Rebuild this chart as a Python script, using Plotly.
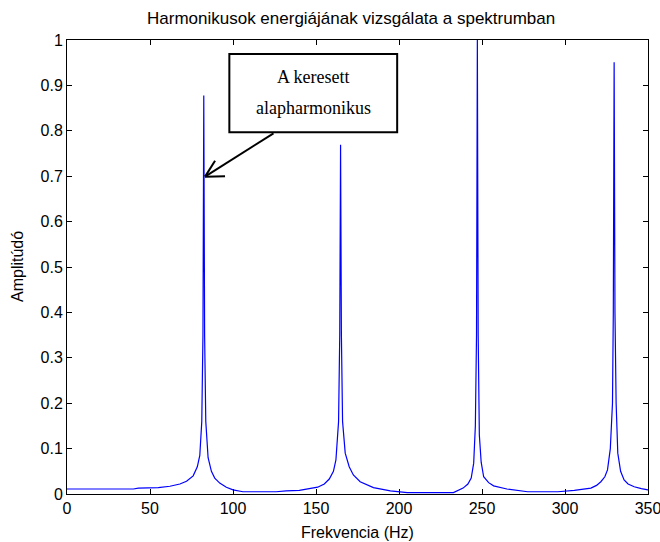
import plotly.graph_objects as go

# Spectrum data
freq_hz = [0, 40, 43, 55, 62, 68, 72, 76, 78.5, 80, 81.2, 81.9, 82.4, 82.9, 83.6, 85, 87, 89, 92, 96,
           100, 106, 126, 132, 140, 146, 151, 155, 158, 160.5, 162, 163.6, 164.3, 164.8, 165.3, 166,
           167.6, 170, 172.5, 176.6, 184.6, 194.8, 205, 232.8, 238.6, 241.5, 243.5, 245, 246, 246.7,
           247.2, 247.7, 248.4, 249.5, 251, 254, 257, 265, 277.5, 295.7, 305.6, 315.6, 319, 321.6,
           324, 325.6, 327.3, 328.6, 329.1, 329.6, 330.1, 330.8, 331.8, 333.5, 335.6, 338, 341.7,
           346, 350]
amplitude = [0.011, 0.011, 0.013, 0.014, 0.017, 0.022, 0.028, 0.040, 0.060, 0.085, 0.16, 0.35, 0.878,
             0.35, 0.16, 0.080, 0.050, 0.035, 0.024, 0.015, 0.009, 0.005, 0.005, 0.007, 0.008, 0.011,
             0.015, 0.022, 0.033, 0.050, 0.075, 0.16, 0.35, 0.769, 0.35, 0.16, 0.090, 0.060, 0.042,
             0.027, 0.014, 0.007, 0.003, 0.003, 0.013, 0.022, 0.035, 0.068, 0.15, 0.35, 1.0, 0.35,
             0.13, 0.07, 0.038, 0.025, 0.018, 0.011, 0.005, 0.005, 0.008, 0.013, 0.019, 0.027, 0.038,
             0.053, 0.10, 0.20, 0.40, 0.951, 0.40, 0.20, 0.090, 0.050, 0.031, 0.022, 0.016, 0.012,
             0.009]

x_ticks = [0, 50, 100, 150, 200, 250, 300, 350]
y_ticks = [0, 0.1, 0.2, 0.3, 0.4, 0.5, 0.6, 0.7, 0.8, 0.9, 1]
y_tick_labels = ["0", "0.1", "0.2", "0.3", "0.4", "0.5", "0.6", "0.7", "0.8", "0.9", "1"]

title_text = "Harmonikusok energiájának vizsgálata a spektrumban"
x_label = "Frekvencia (Hz)"
y_label = "Amplitúdó"
note_lines = ["A keresett", "alapharmonikus"]

fig = go.Figure()
fig.add_trace(go.Scatter(x=freq_hz, y=amplitude, mode="lines",
                         line=dict(color="#0000FF", width=1.2), showlegend=False,
                         hoverinfo="skip"))

font_sans = "Liberation Sans, Arial, sans-serif"
font_serif = "Liberation Serif, Times New Roman, serif"

axis_common = dict(showline=True, linecolor="black", linewidth=1, mirror="ticks",
                   ticks="inside", ticklen=5, tickcolor="black", showgrid=False,
                   zeroline=False, ticklabeloverflow="allow", automargin=False,
                   tickfont=dict(family=font_sans, size=16, color="black"))

fig.update_layout(
    width=660, height=542,
    margin=dict(l=67, r=12, t=40, b=48),
    paper_bgcolor="white", plot_bgcolor="white",
    title=dict(text=title_text, x=0.489, xref="paper", xanchor="center",
               y=1 - 18 / 542, yref="container", yanchor="middle",
               font=dict(family=font_sans, size=17, color="black")),
    xaxis=dict(range=[0, 350], tickvals=x_ticks, ticktext=[str(v) for v in x_ticks],
               **axis_common),
    yaxis=dict(range=[0, 1], tickvals=y_ticks, ticktext=y_tick_labels,
               **axis_common),
)

# Axis titles as annotations (fixed pixel positions)
fig.add_annotation(x=0.5, y=-38 / 454, xref="paper", yref="paper", text=x_label,
                   showarrow=False, xanchor="center", yanchor="middle",
                   font=dict(family=font_sans, size=16, color="black"))
fig.add_annotation(x=-50 / 581, y=0.5, xref="paper", yref="paper", text=y_label,
                   showarrow=False, xanchor="center", yanchor="middle", textangle=-90,
                   font=dict(family=font_sans, size=16, color="black"))

# Annotation box
fig.add_shape(type="rect", xref="x", yref="y", x0=97.8, x1=198.9, y0=0.797, y1=0.969,
              line=dict(color="black", width=2), fillcolor="white", layer="above")
fig.add_annotation(x=148.4, y=0.919, xref="x", yref="y", text=note_lines[0], showarrow=False,
                   font=dict(family=font_serif, size=18, color="black"))
fig.add_annotation(x=148.4, y=0.850, xref="x", yref="y", text=note_lines[1], showarrow=False,
                   font=dict(family=font_serif, size=18, color="black"))
# Arrow (open V head)
arrow_line = dict(color="black", width=2)
fig.add_shape(type="line", xref="x", yref="y", x0=124.4, y0=0.7945, x1=83.15, y1=0.699, line=arrow_line)
fig.add_shape(type="line", xref="x", yref="y", x0=83.15, y0=0.699, x1=95.2, y1=0.700, line=arrow_line)
fig.add_shape(type="line", xref="x", yref="y", x0=83.15, y0=0.699, x1=89.2, y1=0.734, line=arrow_line)

fig.write_html("out.html")
